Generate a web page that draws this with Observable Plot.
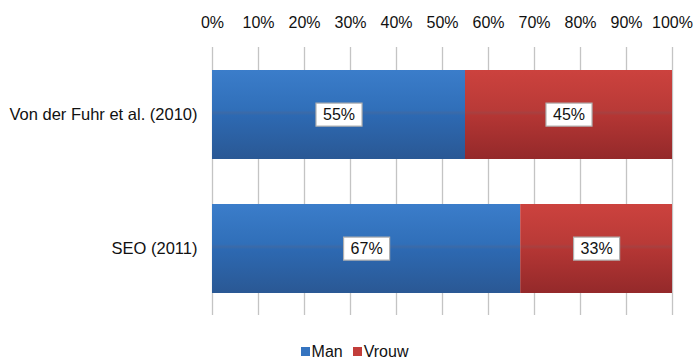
<!DOCTYPE html>
<html>
<head>
<meta charset="utf-8">
<script src="https://cdn.jsdelivr.net/npm/d3@7"></script>
<script src="https://cdn.jsdelivr.net/npm/@observablehq/plot@0.6"></script>
<style>
  body { margin: 0; background: #fff; font-family: "Liberation Sans", Arial, sans-serif; }
  div.lg-swatches { display: flex; justify-content: center; align-items: center; margin: 0 0 0 26px !important; font-size: 16px; color: #111; font-family: "Liberation Sans", Arial, sans-serif; }
</style>
</head>
<body>
<div id="chart"></div>
<script>
const studies = ["Von der Fuhr et al. (2010)", "SEO (2011)"];
const series = ["Man", "Vrouw"];
const man = [55, 67];
const vrouw = [45, 33];
const ticks = [0, 10, 20, 30, 40, 50, 60, 70, 80, 90, 100];

const gradients = [
  {id: "g-man", stops: [["0%", "#3b7dca"], ["45%", "#306fb9"], ["48%", "#3b6aa8"], ["51%", "#2d69b2"], ["100%", "#2a5894"]]},
  {id: "g-vrouw", stops: [["0%", "#cc423e"], ["45%", "#b93a37"], ["48%", "#a84040"], ["51%", "#b43634"], ["100%", "#94292a"]]}
];
const legendColors = ["#3574c0", "#c23d3a"];

const rows = [];
studies.forEach((s, i) => {
  rows.push({study: s, sex: series[0], value: man[i]});
  rows.push({study: s, sex: series[1], value: vrouw[i]});
});

const chart = Plot.plot({
  width: 693,
  height: 335,
  marginTop: 47,
  marginBottom: 20,
  marginLeft: 212,
  marginRight: 21,
  style: {fontFamily: "'Liberation Sans', Arial, sans-serif", fontSize: "16px", color: "#111", background: "#fff"},
  x: {domain: [0, 100]},
  y: {domain: studies, paddingInner: 0.336, paddingOuter: 0.168},
  color: {domain: series, range: gradients.map(g => `url(#${g.id})`)},
  marks: [
    Plot.gridX(ticks, {stroke: "#c4c4c4", strokeOpacity: 1, strokeWidth: 1.3}),
    Plot.axisX(ticks, {anchor: "top", tickSize: 0, tickPadding: 20, tickFormat: d => d + "%", label: null, fontSize: 16}),
    Plot.axisY({tickSize: 0, tickPadding: 15, label: null, fontSize: 16.5}),
    Plot.barX(rows, Plot.stackX({x: "value", y: "study", fill: "sex"})),
    Plot.text(rows, Plot.stackX({x: "value", y: "study", z: "sex", text: d => d.value + "%", fill: "#111", fontSize: 16, className: "labels"}))
  ]
});

// gradient fills for the bars
const defs = d3.select(chart).insert("defs", ":first-child");
gradients.forEach(g => {
  const lg = defs.append("linearGradient").attr("id", g.id).attr("x1", 0).attr("y1", 0).attr("x2", 0).attr("y2", 1);
  g.stops.forEach(([o, c]) => lg.append("stop").attr("offset", o).attr("stop-color", c));
});

const legend = Plot.legend({
  color: {type: "ordinal", domain: series, range: legendColors},
  swatchSize: 9,
  className: "lg"
});
// tighter spacing between swatch, label and the next entry
legend.querySelectorAll(".lg-swatch").forEach(el => {
  el.style.marginRight = "10px";
  const sw = el.querySelector("svg");
  if (sw) sw.style.marginRight = "2px";
});

const root = document.getElementById("chart");
root.appendChild(chart);
root.appendChild(legend);

// white boxes behind the value labels
d3.select(chart).selectAll("g.labels text").each(function() {
  const b = this.getBBox();
  const padX = 7, padY = 4;
  d3.select(this.parentNode).insert("rect", () => this)
    .attr("transform", this.getAttribute("transform"))
    .attr("x", b.x - padX).attr("y", b.y - padY + 1)
    .attr("width", b.width + 2 * padX).attr("height", b.height + 2 * padY - 2)
    .attr("fill", "#fff").attr("stroke", "#b0b0b0").attr("stroke-width", 1.2);
});
</script>
</body>
</html>
